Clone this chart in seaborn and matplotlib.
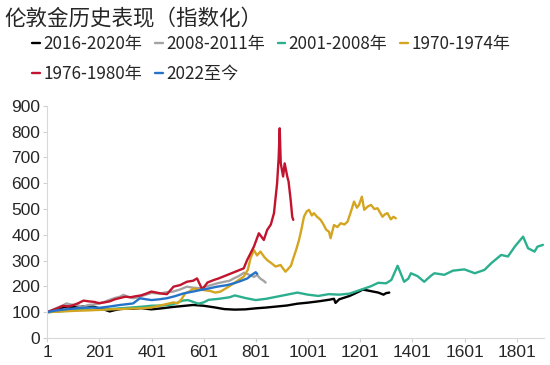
import numpy as np
import pandas as pd
import matplotlib
matplotlib.use("Agg")
import matplotlib.pyplot as plt
import seaborn as sns

# ---------------- data ----------------
title = "伦敦金历史表现（指数化）"
series_names = ["2016-2020年", "2008-2011年", "2001-2008年", "1970-1974年", "1976-1980年", "2022至今"]
colors = ["#000000", "#A3A3A3", "#2BAF8E", "#D4A520", "#C2132F", "#2573C9"]

black_x = [1, 20, 40, 60, 80, 100, 120, 140, 160, 180, 200, 220, 240, 260, 280, 300, 330, 360, 400, 440, 480,
           520, 560, 600, 640, 680, 720, 760, 800, 840, 880, 920, 960, 1000, 1040, 1080, 1100, 1106, 1120,
           1160, 1200, 1210, 1240, 1270, 1290, 1300, 1312]
black_y = [100, 106, 112, 118, 122, 120, 124, 122, 125, 121, 115, 110, 103, 108, 112, 114, 113, 116, 111, 115, 120,
           124, 128, 125, 119, 112, 110, 111, 115, 118, 122, 126, 133, 137, 142, 148, 152, 136, 150,
           163, 182, 188, 182, 176, 168, 174, 176]

gray_x = [1, 20, 40, 60, 74, 90, 110, 138, 160, 180, 201, 220, 240, 260, 280, 292, 310, 330, 350, 370, 401, 430,
          460, 484, 510, 536, 560, 588, 610, 630, 652, 680, 700, 716, 735, 755, 775, 793, 805, 818, 830, 838]
gray_y = [100, 108, 118, 125, 134, 130, 128, 121, 128, 130, 134, 140, 148, 155, 160, 167, 160, 154, 158, 165, 175, 172,
          178, 180, 188, 199, 195, 193, 200, 205, 212, 218, 222, 231, 240, 253, 245, 237, 244, 230, 222, 215]

green_x = [1, 40, 80, 120, 160, 200, 240, 280, 320, 360, 400, 440, 480, 500, 520, 540, 560, 580, 600, 620, 660,
           700, 720, 760, 800, 840, 880, 920, 960, 1000, 1040, 1080, 1120, 1160, 1200, 1240, 1270, 1300, 1320,
           1344, 1369, 1385, 1395, 1420, 1446, 1470, 1485, 1523, 1556, 1600, 1640, 1677, 1703, 1741, 1767,
           1793, 1825, 1844, 1869, 1880, 1901]
green_y = [100, 103, 106, 108, 110, 109, 112, 115, 118, 121, 125, 126, 130, 137, 145, 147, 140, 133, 138, 148, 152,
           158, 165, 155, 147, 152, 160, 168, 176, 168, 163, 170, 168, 172, 186, 200, 214, 212, 225,
           280, 218, 230, 251, 240, 218, 240, 251, 245, 261, 266, 251, 264, 290, 322, 316,
           354, 393, 348, 335, 354, 361]

yellow_x = [1, 40, 80, 120, 160, 200, 240, 280, 320, 360, 400, 430, 460, 485, 500, 515, 530, 545, 562, 580, 600,
            626, 645, 665, 690, 716, 735, 754, 770, 780, 793, 805, 818, 832, 844, 860, 876, 895, 914, 921, 935,
            946, 956, 966, 975, 985, 995, 1004, 1015, 1023, 1035, 1049, 1060, 1070, 1081, 1087, 1100, 1113,
            1126, 1140, 1152, 1165, 1177, 1188, 1196, 1207, 1216, 1230, 1242, 1255, 1267, 1286, 1296, 1305,
            1318, 1328, 1337]
yellow_y = [100, 102, 104, 106, 107, 109, 111, 112, 114, 115, 118, 125, 132, 138, 134, 150, 173, 180, 192, 188, 186,
            182, 176, 180, 195, 212, 225, 238, 265, 309, 341, 320, 335, 315, 302, 290, 277, 283, 257, 264, 280,
            315, 345, 380, 420, 470, 490, 497, 475, 484, 470, 458, 440, 420, 412, 387, 438, 430,
            445, 440, 451, 490, 529, 505, 516, 548, 497, 510, 516, 500, 503, 470, 480, 484,
            460, 470, 464]

red_x = [1, 20, 40, 60, 80, 100, 120, 140, 160, 180, 200, 220, 240, 260, 280, 300, 320, 340, 360, 380, 400, 420,
         440, 460, 485, 510, 536, 560, 575, 595, 615, 640, 658, 690, 722, 754, 767, 793, 812, 831, 844, 858, 870,
         882, 888, 892, 896, 905, 911, 921, 926, 934, 940, 944]
red_y = [100, 108, 115, 125, 122, 127, 135, 145, 142, 140, 135, 138, 142, 150, 155, 160, 158, 162, 165, 172, 180, 176,
         172, 170, 199, 205, 218, 222, 231, 188, 215, 225, 231, 244, 257, 270, 302, 354, 406, 380, 419, 440, 484,
         600, 700, 813, 677, 626, 677, 626, 606, 535, 470, 458]

blue_x = [1, 30, 60, 90, 120, 138, 170, 201, 240, 280, 330, 356, 380, 401, 430, 459, 490, 524, 560, 588, 620, 652,
          690, 716, 740, 768, 785, 800, 806]
blue_y = [100, 106, 110, 113, 116, 117, 118, 117, 122, 128, 134, 154, 150, 147, 150, 154, 162, 173, 180, 186, 192, 199,
          205, 212, 220, 231, 245, 255, 248]

xticks = [1, 201, 401, 601, 801, 1001, 1201, 1401, 1601, 1801]
yticks = [0, 100, 200, 300, 400, 500, 600, 700, 800, 900]

# ---------------- build frame ----------------
xs = [black_x, gray_x, green_x, yellow_x, red_x, blue_x]
ys = [black_y, gray_y, green_y, yellow_y, red_y, blue_y]
frames = [pd.DataFrame({"x": x, "y": y, "series": n}) for x, y, n in zip(xs, ys, series_names)]
df = pd.concat(frames, ignore_index=True)

sns.set_theme(style="white")
plt.rcParams["font.family"] = ["Noto Sans CJK SC", "DejaVu Sans"]

fig = plt.figure(figsize=(5.5, 3.65), dpi=100)
ax = fig.add_axes([0.086, 0.074, 0.903, 0.636])

sns.lineplot(data=df, x="x", y="y", hue="series", hue_order=series_names,
             palette=dict(zip(series_names, colors)), estimator=None, sort=False,
             linewidth=1.7, ax=ax, legend=True)

ax.set_xlim(1, 1905)
ax.set_ylim(0, 900)
ax.set_xticks(xticks)
ax.set_yticks(yticks)
ax.set_xlabel("")
ax.set_ylabel("")
for lab in ax.get_xticklabels() + ax.get_yticklabels():
    lab.set_fontfamily(["Liberation Sans", "DejaVu Sans"])
    lab.set_fontsize(12.5)
    lab.set_color("#262626")
ax.tick_params(axis="both", which="major", length=3, width=0.8, color="#D0D0D0", pad=2,
               bottom=True, left=True)
for s in ["top", "right"]:
    ax.spines[s].set_visible(False)
for s in ["left", "bottom"]:
    ax.spines[s].set_color("#D9D9D9")
    ax.spines[s].set_linewidth(0.8)

handles, labels = ax.get_legend_handles_labels()
ax.get_legend().remove()
order = [0, 4, 1, 5, 2, 3]
fig.legend([handles[i] for i in order], [labels[i] for i in order],
           loc="upper left", bbox_to_anchor=(0.058, 0.905), ncol=4, frameon=False,
           fontsize=12.3, handlelength=0.45, handletextpad=0.2, columnspacing=0.75,
           labelspacing=0.72, borderaxespad=0, borderpad=0)

fig.text(0.008, 0.978, title, fontsize=15.5, color="#262626", va="top", ha="left",
         family=["Noto Sans CJK SC", "DejaVu Sans"])

fig.savefig("out.png", dpi=100)
